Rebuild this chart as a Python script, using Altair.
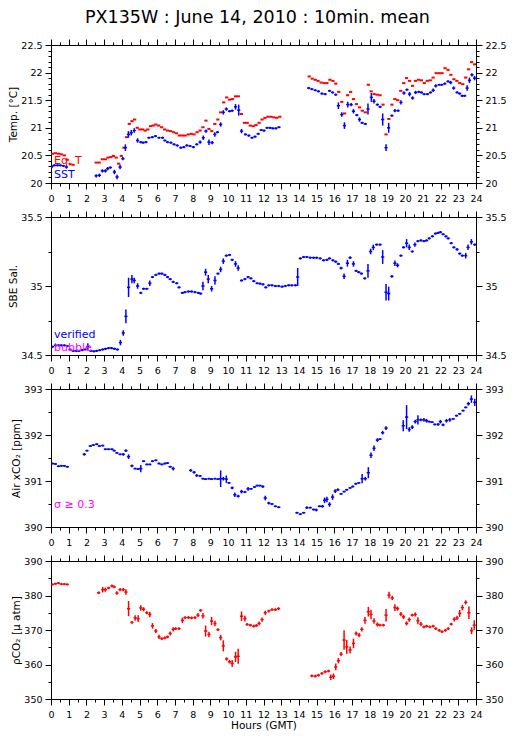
import altair as alt
import pandas as pd

FONT = "DejaVu Sans"
TITLE = "PX135W : June 14, 2010 : 10min. mean"
BLUE = "#0000ff"
RED = "#ff0000"
MAGENTA = "#ff00ff"

HOURS = list(range(25))
HALF_HOURS = [i * 0.5 for i in range(49)]

# ---------------- Panel 1 : SST (blue crosses) and Eq. T (red dashes)
sst_hour = [
    0.05, 0.20, 0.37, 0.53, 0.70, 0.87,
    2.55, 2.73, 2.90, 3.07, 3.20, 3.35,
    3.58, 3.73, 3.90, 4.06, 4.20, 4.37,
    4.53, 4.70, 4.89, 5.07, 5.20, 5.36,
    5.53, 5.72, 5.90, 6.10, 6.30, 6.43,
    6.58, 6.77, 6.95, 7.13, 7.33, 7.50,
    7.67, 7.85, 8.04, 8.23, 8.42, 8.60,
    8.75, 8.92, 9.10, 9.25, 9.40, 9.58,
    9.73, 9.90, 10.08, 10.23, 10.42, 10.60,
    10.76, 10.98, 11.17, 11.35, 11.52, 11.70,
    11.87, 12.03, 12.20, 12.37, 12.53, 12.70,
    12.87, 14.55, 14.73, 14.92, 15.10, 15.30,
    15.48, 15.73, 15.90, 16.08, 16.23, 16.42,
    16.57, 16.76, 16.95, 17.08, 17.27, 17.42,
    17.57, 17.75, 17.90, 18.09, 18.24, 18.43,
    18.58, 18.73, 18.92, 19.07, 19.25, 19.42,
    19.60, 19.76, 19.93, 20.10, 20.25, 20.42,
    20.59, 20.77, 20.92, 21.07, 21.26, 21.43,
    21.58, 21.73, 21.92, 22.07, 22.24, 22.42,
    22.57, 22.74, 22.93, 23.08, 23.22, 23.36,
    23.50, 23.63, 23.77, 23.92,
]
sst_temp = [
    20.30, 20.32, 20.32, 20.32, 20.31, 20.29,
    20.13, 20.14, 20.22, 20.22, 20.26, 20.28,
    20.20, 20.11, 20.29, 20.44, 20.64, 20.88,
    20.91, 20.95, 20.77, 20.74, 20.73, 20.74,
    20.82, 20.83, 20.85, 20.82, 20.82, 20.77,
    20.74, 20.73, 20.70, 20.68, 20.64, 20.65,
    20.68, 20.67, 20.65, 20.70, 20.74, 20.82,
    20.94, 20.74, 20.73, 20.88, 20.92, 21.06,
    21.28, 21.34, 21.30, 21.31, 21.38, 21.32,
    20.94, 20.88, 20.86, 20.82, 20.84, 20.89,
    20.96, 20.95, 21.00, 21.00, 20.99, 20.99,
    21.01, 21.72, 21.70, 21.68, 21.66, 21.62,
    21.61, 21.67, 21.64, 21.60, 21.40, 21.24,
    21.04, 21.42, 21.42, 21.30, 21.23, 21.15,
    21.09, 21.07, 21.34, 21.55, 21.48, 21.42,
    21.38, 21.15, 20.64, 21.00, 21.22, 21.31,
    21.31, 21.46, 21.63, 21.69, 21.61, 21.54,
    21.64, 21.65, 21.64, 21.61, 21.61, 21.64,
    21.68, 21.76, 21.78, 21.78, 21.80, 21.84,
    21.82, 21.72, 21.64, 21.62, 21.58, 21.58,
    21.72, 21.86, 21.96, 21.90,
]
sst_sd = [
    .03, .02, .02, .02, .02, .03,
    .03, .03, .03, .03, .03, .02,
    .04, .04, .04, .03, .06, .06,
    .05, .04, .04, .02, .02, .02,
    .02, .02, .02, .02, .02, .02,
    .02, .02, .02, .02, .02, .02,
    .02, .02, .02, .02, .03, .04,
    .03, .05, .03, .04, .02, .04,
    .04, .03, .02, .02, .05, .10,
    .04, .02, .02, .02, .02, .02,
    .02, .02, .02, .02, .02, .02,
    .02, .02, .02, .02, .02, .02,
    .02, .02, .02, .02, .06, .04,
    .06, .05, .03, .04, .02, .04,
    .02, .02, .10, .08, .04, .02,
    .02, .11, .06, .09, .02, .03,
    .02, .04, .03, .02, .04, .03,
    .03, .02, .02, .02, .02, .02,
    .03, .03, .02, .02, .02, .02,
    .03, .03, .02, .02, .02, .02,
    .05, .05, .03, .04,
]

eqt_hour = [
    0.08, 0.25, 0.42, 0.58, 0.75, 0.92,
    1.08, 1.25, 2.55, 2.72, 2.90, 3.07,
    3.22, 3.38, 3.53, 3.68, 3.82, 3.97,
    4.12, 4.27, 4.42, 4.57, 4.72, 4.87,
    5.02, 5.17, 5.32, 5.47, 5.62, 5.77,
    5.92, 6.08, 6.25, 6.42, 6.58, 6.75,
    6.92, 7.08, 7.25, 7.42, 7.58, 7.75,
    7.92, 8.08, 8.25, 8.42, 8.58, 8.75,
    8.92, 9.08, 9.25, 9.42, 9.58, 9.75,
    9.92, 10.08, 10.25, 10.42, 10.58, 10.75,
    10.92, 11.08, 11.25, 11.42, 11.58, 11.75,
    11.92, 12.08, 12.25, 12.42, 12.58, 12.75,
    12.92, 14.58, 14.75, 14.92, 15.08, 15.25,
    15.42, 15.58, 15.75, 15.92, 16.08, 16.25,
    16.42, 16.58, 16.75, 16.92, 17.08, 17.25,
    17.42, 17.58, 17.75, 17.92, 18.08, 18.25,
    18.42, 18.58, 18.75, 18.92, 19.08, 19.25,
    19.42, 19.58, 19.75, 19.92, 20.08, 20.25,
    20.42, 20.58, 20.75, 20.92, 21.08, 21.25,
    21.42, 21.58, 21.75, 21.92, 22.08, 22.25,
    22.42, 22.58, 22.75, 22.92, 23.08, 23.25,
    23.42, 23.58, 23.75, 23.92,
]
eqt_temp = [
    20.53, 20.54, 20.53, 20.52, 20.50, 20.42,
    20.34, 20.33, 20.37, 20.37, 20.43, 20.43,
    20.46, 20.47, 20.49, 20.46, 20.35, 20.49,
    20.64, 20.83, 21.07, 21.12, 21.15, 21.00,
    20.97, 20.97, 20.95, 20.97, 21.03, 21.04,
    21.06, 21.04, 21.01, 20.97, 20.95, 20.94,
    20.92, 20.90, 20.86, 20.86, 20.86, 20.88,
    20.89, 20.88, 20.92, 20.95, 21.01, 21.13,
    20.98, 20.94, 21.07, 21.15, 21.28, 21.46,
    21.55, 21.51, 21.52, 21.57, 21.57, 21.25,
    21.09, 21.09, 21.04, 21.03, 21.05, 21.09,
    21.15, 21.18, 21.20, 21.20, 21.19, 21.18,
    21.20, 21.93, 21.89, 21.87, 21.85, 21.82,
    21.81, 21.81, 21.87, 21.85, 21.80, 21.65,
    21.47, 21.26, 21.59, 21.65, 21.52, 21.43,
    21.37, 21.31, 21.28, 21.78, 21.66, 21.61,
    21.60, 21.59, 21.42, 20.88, 21.16, 21.42,
    21.52, 21.50, 21.67, 21.81, 21.90, 21.85,
    21.76, 21.85, 21.87, 21.86, 21.81, 21.85,
    21.86, 21.91, 21.99, 21.99, 21.99, 22.08,
    22.05, 21.96, 21.88, 21.85, 21.81, 21.79,
    21.91, 22.06, 22.19, 22.15,
]

# ---------------- Panel 2 : SBE salinity
sal_hour = [
    0.08, 0.25, 0.42, 0.58, 0.75, 0.92,
    1.08, 1.25, 1.42, 1.58, 1.75, 1.92,
    2.08, 2.25, 2.42, 2.58, 2.75, 2.92,
    3.08, 3.25, 3.42, 3.58, 3.75, 3.92,
    4.08, 4.23, 4.38, 4.57, 4.70, 4.89,
    5.07, 5.23, 5.41, 5.58, 5.73, 5.92,
    6.10, 6.26, 6.43, 6.58, 6.73, 6.90,
    7.10, 7.23, 7.42, 7.57, 7.76, 7.94,
    8.13, 8.32, 8.45, 8.58, 8.73, 8.88,
    9.07, 9.26, 9.43, 9.58, 9.73, 9.90,
    10.08, 10.23, 10.42, 10.57, 10.76, 10.95,
    11.13, 11.29, 11.45, 11.64, 11.80, 11.97,
    12.13, 12.30, 12.48, 12.67, 12.86, 13.05,
    13.23, 13.42, 13.60, 13.80, 13.93, 14.08,
    14.27, 14.45, 14.64, 14.83, 15.00, 15.20,
    15.39, 15.58, 15.73, 15.92, 16.08, 16.23,
    16.38, 16.55, 16.74, 16.89, 17.08, 17.23,
    17.38, 17.53, 17.72, 17.90, 18.05, 18.20,
    18.39, 18.58, 18.73, 18.92, 19.07, 19.25,
    19.42, 19.57, 19.76, 19.91, 20.08, 20.23,
    20.40, 20.55, 20.72, 20.89, 21.06, 21.21,
    21.36, 21.54, 21.71, 21.86, 21.99, 22.14,
    22.30, 22.43, 22.60, 22.75, 22.93, 23.08,
    23.23, 23.42, 23.55, 23.74, 23.93,
]
sal_psu = [
    34.56, 34.57, 34.57, 34.57, 34.57, 34.565,
    34.54, 34.53, 34.53, 34.53, 34.535, 34.54,
    34.56, 34.53, 34.527, 34.53, 34.535, 34.54,
    34.545, 34.55, 34.55, 34.545, 34.54, 34.59,
    34.66, 34.78, 34.99, 35.05, 35.04, 35.00,
    34.95, 34.98, 34.98, 35.02, 35.065, 35.08,
    35.09, 35.09, 35.08, 35.065, 35.05, 35.03,
    35.02, 34.99, 34.95, 34.955, 34.96, 34.96,
    34.955, 34.95, 34.945, 35.00, 35.10, 35.05,
    34.98, 35.04, 35.09, 35.12, 35.18, 35.22,
    35.225, 35.19, 35.16, 35.13, 35.04, 35.05,
    35.065, 35.055, 35.035, 35.02, 35.017, 35.012,
    34.99, 35.005, 35.005, 35.00, 35.00, 34.995,
    35.00, 35.005, 35.005, 35.005, 35.065, 35.20,
    35.21, 35.21, 35.205, 35.205, 35.205, 35.20,
    35.186, 35.19, 35.20, 35.186, 35.176, 35.16,
    35.13, 35.07, 35.165, 35.205, 35.16, 35.11,
    35.10, 35.09, 35.055, 35.11, 35.25, 35.28,
    35.30, 35.30, 35.21, 34.955, 34.945, 35.07,
    35.165, 35.15, 35.22, 35.28, 35.31, 35.28,
    35.25, 35.30, 35.325, 35.33, 35.325, 35.33,
    35.345, 35.36, 35.38, 35.385, 35.39, 35.375,
    35.36, 35.345, 35.31, 35.28, 35.265, 35.235,
    35.22, 35.22, 35.28, 35.32, 35.30,
]
sal_sd = [
    .008, .008, .008, .008, .008, .008,
    .008, .008, .008, .008, .008, .008,
    .025, .008, .008, .008, .008, .008,
    .008, .008, .008, .008, .008, .02,
    .02, .05, .07, .03, .02, .02,
    .008, .008, .008, .02, .008, .008,
    .008, .008, .008, .008, .008, .008,
    .008, .008, .008, .008, .008, .008,
    .008, .008, .008, .03, .025, .03,
    .02, .03, .008, .02, .02, .008,
    .008, .008, .02, .02, .008, .008,
    .008, .008, .008, .008, .008, .008,
    .008, .008, .008, .008, .008, .008,
    .008, .008, .008, .008, .065, .008,
    .008, .008, .008, .008, .008, .008,
    .008, .008, .008, .008, .008, .008,
    .01, .02, .025, .01, .02, .008,
    .008, .008, .008, .05, .02, .02,
    .008, .008, .05, .06, .05, .01,
    .02, .015, .008, .008, .03, .02,
    .008, .015, .008, .008, .008, .008,
    .008, .008, .008, .008, .008, .008,
    .008, .008, .008, .008, .01, .008,
    .008, .02, .02, .02, .008,
]

# ---------------- Panel 3 : Air xCO2
air_hour = [
    0.08, 0.25, 0.42, 0.58, 0.75, 0.92,
    1.88, 2.03, 2.22, 2.39, 2.58, 2.73,
    2.92, 3.07, 3.25, 3.44, 3.57, 3.72,
    3.90, 4.08, 4.23, 4.38, 4.57, 4.75,
    4.92, 5.07, 5.23, 5.41, 5.58, 5.73,
    5.92, 6.10, 6.26, 6.43, 6.58, 6.73,
    6.90, 7.89, 8.08, 8.23, 8.42, 8.58,
    8.73, 8.92, 9.07, 9.26, 9.43, 9.58,
    9.73, 9.90, 10.05, 10.23, 10.38, 10.57,
    10.76, 10.95, 11.13, 11.30, 11.49, 11.64,
    11.80, 11.96, 12.10, 12.30, 12.48, 12.67,
    12.86, 13.89, 14.08, 14.27, 14.45, 14.64,
    14.83, 14.98, 15.16, 15.33, 15.45, 15.58,
    15.73, 15.90, 16.05, 16.20, 16.38, 16.55,
    16.70, 16.89, 17.04, 17.21, 17.38, 17.57,
    17.75, 17.92, 18.07, 18.24, 18.43, 18.58,
    18.73, 18.92, 19.89, 20.08, 20.23, 20.40,
    20.57, 20.72, 20.89, 21.06, 21.21, 21.36,
    21.52, 21.67, 21.86, 21.99, 22.14, 22.33,
    22.52, 22.71, 22.90, 23.08, 23.27, 23.42,
    23.57, 23.74, 23.93,
]
air_ppm = [
    391.38, 391.37, 391.32, 391.33, 391.33, 391.31,
    391.58, 391.66, 391.76, 391.78, 391.80, 391.76,
    391.77, 391.69, 391.69, 391.69, 391.66, 391.61,
    391.58, 391.58, 391.66, 391.53, 391.33, 391.27,
    391.26, 391.27, 391.43, 391.36, 391.36, 391.43,
    391.45, 391.38, 391.36, 391.38, 391.39, 391.31,
    391.27, 391.23, 391.19, 391.12, 391.11, 391.05,
    391.04, 391.05, 391.04, 391.05, 391.04, 391.05,
    391.05, 391.04, 390.96, 390.85, 390.70, 390.67,
    390.77, 390.76, 390.83, 390.83, 390.87, 390.90,
    390.90, 390.88, 390.63, 390.52, 390.50, 390.45,
    390.43, 390.31, 390.28, 390.31, 390.42, 390.42,
    390.38, 390.37, 390.45, 390.45, 390.58, 390.60,
    390.49, 390.65, 390.78, 390.81, 390.72, 390.77,
    390.81, 390.85, 390.88, 390.94, 390.96, 391.05,
    391.05, 391.18, 391.56, 391.71, 391.89, 391.91,
    392.05, 392.15, 392.20, 392.39, 392.12, 392.17,
    392.29, 392.33, 392.33, 392.33, 392.31, 392.29,
    392.28, 392.23, 392.23, 392.29, 392.22, 392.31,
    392.33, 392.35, 392.42, 392.46, 392.53, 392.60,
    392.68, 392.78, 392.71,
]
air_sd = [
    .02, .02, .02, .02, .02, .02,
    .03, .02, .02, .02, .02, .02,
    .02, .02, .02, .02, .02, .02,
    .02, .03, .03, .05, .03, .02,
    .02, .08, .02, .02, .02, .02,
    .02, .02, .02, .02, .02, .02,
    .04, .03, .03, .03, .02, .02,
    .02, .02, .02, .02, .02, .18,
    .04, .08, .02, .03, .05, .03,
    .04, .02, .04, .02, .02, .02,
    .02, .03, .05, .03, .02, .02,
    .02, .02, .02, .02, .03, .02,
    .02, .03, .02, .03, .06, .06,
    .05, .06, .04, .03, .02, .02,
    .02, .02, .02, .02, .02, .10,
    .04, .12, .06, .06, .04, .02,
    .04, .04, .12, .26, .05, .04,
    .04, .10, .03, .04, .04, .02,
    .02, .02, .03, .04, .03, .04,
    .04, .02, .02, .02, .02, .02,
    .04, .08, .08,
]

# ---------------- Panel 4 : pCO2
pco2_hour = [
    0.08, 0.25, 0.42, 0.58, 0.75, 0.92,
    2.69, 2.92, 3.07, 3.25, 3.44, 3.57,
    3.72, 3.90, 4.08, 4.23, 4.38, 4.57,
    4.75, 4.92, 5.07, 5.23, 5.41, 5.58,
    5.73, 5.92, 6.10, 6.26, 6.43, 6.58,
    6.73, 6.90, 7.04, 7.23, 7.42, 7.57,
    7.76, 7.94, 8.13, 8.30, 8.45, 8.58,
    8.73, 8.92, 9.07, 9.26, 9.43, 9.58,
    9.73, 9.92, 10.08, 10.23, 10.42, 10.57,
    10.76, 10.95, 11.08, 11.26, 11.45, 11.60,
    11.75, 11.92, 12.10, 12.30, 12.48, 12.67,
    12.85, 14.73, 14.92, 15.10, 15.30, 15.48,
    15.67, 15.80, 15.95, 16.08, 16.23, 16.38,
    16.55, 16.70, 16.89, 17.08, 17.23, 17.40,
    17.55, 17.73, 17.92, 18.07, 18.24, 18.43,
    18.58, 18.77, 18.92, 19.09, 19.27, 19.42,
    19.57, 19.76, 19.91, 20.08, 20.23, 20.40,
    20.57, 20.72, 20.89, 21.06, 21.21, 21.39,
    21.58, 21.73, 21.92, 22.08, 22.27, 22.43,
    22.60, 22.77, 22.93, 23.08, 23.23, 23.42,
    23.60, 23.75, 23.90,
]
pco2_uatm = [
    383.2, 383.4, 383.6, 383.3, 383.3, 383.2,
    380.8, 381.7, 381.7, 382.2, 382.8, 382.5,
    380.7, 381.7, 381.7, 381.0, 376.2, 372.2,
    373.5, 373.3, 376.4, 376.0, 375.0, 374.5,
    371.2, 369.7, 368.0, 367.5, 367.7, 368.0,
    369.0, 370.2, 370.4, 370.4, 372.8, 373.6,
    373.6, 373.5, 373.6, 374.3, 375.7, 374.1,
    369.7, 368.7, 372.6, 371.9, 370.1, 367.8,
    365.4, 361.6, 360.8, 360.3, 362.2, 362.4,
    374.0, 373.3, 371.6, 371.4, 371.1, 371.3,
    371.9, 373.0, 375.0, 375.5, 375.9, 375.9,
    376.2, 356.7, 356.6, 356.9, 357.4, 357.9,
    358.1, 356.3, 356.6, 359.3, 361.1, 363.0,
    367.1, 365.1, 364.2, 366.1, 369.0, 368.5,
    370.2, 372.8, 375.3, 374.5, 372.6, 371.6,
    371.4, 371.4, 374.3, 380.1, 379.3, 376.5,
    376.2, 374.6, 373.8, 371.9, 373.0, 374.3,
    374.5, 372.7, 371.7, 370.9, 371.1, 370.9,
    371.1, 370.4, 369.9, 369.5, 369.9, 370.4,
    371.7, 373.1, 373.5, 374.8, 376.5, 378.0,
    375.0, 369.8, 371.4,
]
pco2_sd = [
    .3, .3, .3, .3, .3, .3,
    .4, .8, .6, .4, .4, .4,
    .5, .5, .5, .8, 2.2, .4,
    .8, 1.0, .8, .6, .4, .8,
    .8, .6, .6, .4, .4, .4,
    .6, .6, .4, .4, .8, .4,
    .4, .4, .4, .6, .4, .8,
    1.6, .8, 1.2, .8, .4, .8,
    1.6, .5, .5, 1.0, 1.5, 2.2,
    1.4, .8, .4, .4, .4, .4,
    .6, .6, .6, .4, .4, .4,
    .4, .4, .4, .4, .4, .4,
    .4, .8, .8, 1.0, .8, .6,
    2.8, 2.0, 1.0, 1.4, .6, .6,
    .6, 1.0, 1.4, 1.4, .8, .6,
    .4, .4, 1.8, 1.0, .6, 1.0,
    .6, .6, .6, .6, .6, .4,
    .6, 1.0, .6, .4, .4, .4,
    .4, .4, .4, .4, .4, .4,
    .4, .6, .6, 1.0, .8, .6,
    1.8, 1.0, 1.4,
]


def frame(hours, vals, sds, half_width):
    if not (len(hours) == len(vals) == len(sds)):
        raise ValueError(f"length mismatch {len(hours)} {len(vals)} {len(sds)}")
    return pd.DataFrame({
        "h": hours,
        "v": vals,
        "lo": [v - s for v, s in zip(vals, sds)],
        "hi": [v + s for v, s in zip(vals, sds)],
        "x0": [h - half_width for h in hours],
        "x1": [h + half_width for h in hours],
    })


AX_COMMON = dict(grid=False, domainColor="black", tickColor="black",
                 labelColor="black", titleColor="black", domainWidth=1,
                 tickWidth=1, labelFont=FONT, labelFontSize=9.5,
                 titleFont=FONT, titleFontSize=10.5, titleFontWeight="normal",
                 labelFlush=False, labelOverlap=False)


def axis(orient, values, size, labels, title=None, pad=3):
    kw = dict(AX_COMMON)
    kw.update(orient=orient, values=values, tickSize=size, labels=labels,
              format="~f", labelPadding=pad)
    if title is not None:
        kw["title"] = title
        kw["titlePadding"] = 2
    else:
        kw["title"] = None
    return alt.Axis(**kw)


def panel(series, ydom, ymajor, yminor, ytitle, notes, xtitle=None):
    xs = alt.Scale(domain=[0, 24], nice=False, zero=False)
    ys = alt.Scale(domain=ydom, nice=False, zero=False)
    base = series[-1]["df"]
    layers = []
    # axis carriers (invisible)
    layers.append(alt.Chart(base).mark_point(opacity=0).encode(
        x=alt.X("h:Q", scale=xs, axis=axis("bottom", HOURS, 6, True, xtitle, 4)),
        y=alt.Y("v:Q", scale=ys, axis=axis("left", ymajor, 6, True, ytitle, 3))))
    layers.append(alt.Chart(base).mark_point(opacity=0).encode(
        x=alt.X("h:Q", scale=xs, axis=axis("top", HOURS, 6, False)),
        y=alt.Y("v:Q", scale=ys, axis=axis("right", ymajor, 6, True, None, 3))))
    layers.append(alt.Chart(base).mark_point(opacity=0).encode(
        x=alt.X("h:Q", scale=xs, axis=axis("bottom", HALF_HOURS, 3, False)),
        y=alt.Y("v:Q", scale=ys, axis=axis("left", yminor, 3, False))))
    layers.append(alt.Chart(base).mark_point(opacity=0).encode(
        x=alt.X("h:Q", scale=xs, axis=axis("top", HALF_HOURS, 3, False)),
        y=alt.Y("v:Q", scale=ys, axis=axis("right", yminor, 3, False))))
    for s in series:
        df = s["df"]
        if s["vbar"]:
            layers.append(alt.Chart(df).mark_rule(
                color=s["color"], strokeWidth=s["sw"], clip=True).encode(
                x=alt.X("h:Q", scale=xs, axis=None),
                y=alt.Y("lo:Q", scale=ys, axis=None),
                y2="hi:Q"))
        layers.append(alt.Chart(df).mark_rule(
            color=s["color"], strokeWidth=s["sw"], clip=True).encode(
            x=alt.X("x0:Q", scale=xs, axis=None),
            x2="x1:Q",
            y=alt.Y("v:Q", scale=ys, axis=None)))
    for label, color, ypix in notes:
        layers.append(alt.Chart(pd.DataFrame({"t": [label]})).mark_text(
            align="left", baseline="alphabetic", font=FONT, fontSize=11,
            color=color).encode(
            x=alt.value(3), y=alt.value(ypix), text="t:N"))
    return alt.layer(*layers).resolve_axis(
        x="independent", y="independent").properties(width=425, height=138)


p1 = panel(
    [dict(df=frame(eqt_hour, eqt_temp, [0] * len(eqt_hour), 0.09), color=RED, sw=2, vbar=False),
     dict(df=frame(sst_hour, sst_temp, sst_sd, 0.09), color=BLUE, sw=1.5, vbar=True)],
    [20, 22.5], [20, 20.5, 21, 21.5, 22, 22.5],
    [round(20 + 0.1 * i, 1) for i in range(26)], "Temp. [°C]",
    [("Eq. T", RED, 119), ("SST", BLUE, 133)])

p2 = panel(
    [dict(df=frame(sal_hour, sal_psu, sal_sd, 0.09), color=BLUE, sw=1.5, vbar=True)],
    [34.5, 35.5], [34.5, 35, 35.5], [34.75, 35.25], "SBE Sal.",
    [("verified", BLUE, 121), ("bubble", MAGENTA, 134)])

p3 = panel(
    [dict(df=frame(air_hour, air_ppm, air_sd, 0.09), color=BLUE, sw=1.5, vbar=True)],
    [390, 393], [390, 391, 392, 393], [390.5, 391.5, 392.5], "Air xCO₂ [ppm]",
    [("σ ≥ 0.3", MAGENTA, 119)])

p4 = panel(
    [dict(df=frame(pco2_hour, pco2_uatm, pco2_sd, 0.09), color=RED, sw=1.5, vbar=True)],
    [350, 390], [350, 360, 370, 380, 390], [355, 365, 375, 385], "ρCO₂ [μ atm]",
    [], xtitle="Hours (GMT)")

chart = alt.vconcat(p1, p2, p3, p4, spacing=34, bounds="flush").properties(
    title=alt.TitleParams(TITLE, font=FONT, fontSize=17.5, fontWeight="normal",
                          color="black", anchor="middle", offset=12),
    padding={"left": 0, "top": 0, "right": 0, "bottom": 0},
).configure_view(stroke=None).configure(background="white")

chart.save("out.html", embed_options={"renderer": "svg", "actions": False})
